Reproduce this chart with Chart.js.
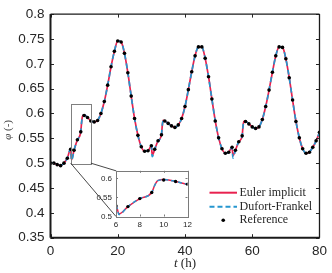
<!DOCTYPE html>
<html><head><meta charset="utf-8">
<script src="https://cdn.jsdelivr.net/npm/chart.js@4"></script>
<style>
html,body{margin:0;padding:0;background:#fff;}
#wrap{position:relative;width:332px;height:273px;overflow:hidden;}
#main{position:absolute;left:0;top:0;}
#inset{position:absolute;left:86px;top:162px;}
</style></head><body>
<div id="wrap">
<canvas id="main" width="332" height="273"></canvas>
<canvas id="inset" width="110" height="74"></canvas>
</div>
<script>
// ---- data ----
const refHours = [0,1,2,3,4,5,6,7,8,9,10,11,12,13,14,15,16,17,18,19,20,21,22,23,24,25,26,27,28,29,30,31,32,33,34,35,36,37,38,39,40,41,42,43,44,45,46,47,48,49,50,51,52,53,54,55,56,57,58,59,60,61,62,63,64,65,66,67,68,69,70,71,72,73,74,75,76,77,78,79,80];
const refValues = [0.500,0.500,0.497,0.495,0.500,0.510,0.528,0.526,0.547,0.563,0.596,0.592,0.585,0.583,0.586,0.600,0.624,0.657,0.694,0.725,0.746,0.744,0.721,0.682,0.635,0.590,0.556,0.533,0.524,0.525,0.535,0.528,0.545,0.557,0.585,0.580,0.575,0.572,0.577,0.590,0.614,0.648,0.684,0.716,0.734,0.734,0.711,0.674,0.629,0.585,0.551,0.529,0.520,0.522,0.532,0.526,0.543,0.555,0.584,0.579,0.573,0.570,0.573,0.588,0.614,0.647,0.683,0.716,0.734,0.733,0.710,0.672,0.627,0.584,0.551,0.529,0.520,0.522,0.532,0.545,0.562];
const lineHours = [0,1,2,3,4,5,6,6.25,7,8,9,9.25,9.5,10,11,12,13,14,15,16,17,18,19,20,21,22,23,24,25,26,27,28,29,30,30.25,31,32,33,33.25,33.5,34,35,36,37,38,39,40,41,42,43,44,45,46,47,48,49,50,51,52,53,54,54.25,55,56,57,57.25,57.5,58,59,60,61,62,63,64,65,66,67,68,69,70,71,72,73,74,75,76,77,78,79,80];
const eulerValues = [0.500,0.500,0.497,0.495,0.500,0.510,0.529,0.507,0.526,0.547,0.563,0.582,0.594,0.597,0.592,0.585,0.583,0.586,0.600,0.624,0.657,0.694,0.725,0.746,0.744,0.721,0.682,0.635,0.590,0.556,0.533,0.524,0.525,0.535,0.516,0.528,0.545,0.557,0.576,0.586,0.585,0.580,0.575,0.572,0.577,0.590,0.614,0.648,0.684,0.716,0.734,0.734,0.711,0.674,0.629,0.585,0.551,0.529,0.520,0.522,0.532,0.515,0.526,0.543,0.555,0.574,0.584,0.584,0.579,0.573,0.570,0.573,0.588,0.614,0.647,0.683,0.716,0.734,0.733,0.710,0.672,0.627,0.584,0.551,0.529,0.520,0.522,0.532,0.545,0.562];
const dufortValues = [0.500,0.500,0.497,0.495,0.500,0.510,0.529,0.505,0.526,0.547,0.563,0.582,0.594,0.597,0.592,0.585,0.583,0.586,0.600,0.624,0.657,0.694,0.725,0.746,0.744,0.721,0.682,0.635,0.590,0.556,0.533,0.524,0.525,0.535,0.513,0.528,0.545,0.557,0.576,0.586,0.585,0.580,0.575,0.572,0.577,0.590,0.614,0.648,0.684,0.716,0.734,0.734,0.711,0.674,0.629,0.585,0.551,0.529,0.520,0.522,0.532,0.510,0.526,0.543,0.555,0.574,0.584,0.584,0.579,0.573,0.570,0.573,0.588,0.614,0.647,0.683,0.716,0.734,0.733,0.710,0.672,0.627,0.584,0.551,0.529,0.520,0.522,0.532,0.545,0.562];
const seriesLabels = ['Euler implicit','Dufort-Frankel','Reference'];
const insetYTicks = [0.5, 0.55, 0.6];
const insetXTicks = [6, 8, 10, 12];
const xTitle = ['t',' (h)'];
const yTitle = ['φ',' (-)'];
const zoomBox = {x0:6, x1:12, y0:0.5, y1:0.62};

const RED = '#e8214f', BLUE = '#2596cf', INK = '#262626';
const pts = (xs, ys) => xs.map((x,i)=>({x, y: ys[i]}));

function makeDatasets(lw, dotR, dash){
  return [
    {label: seriesLabels[2], type:'scatter', data: pts(refHours, refValues), showLine:false,
     pointRadius: dotR, pointBackgroundColor:'#000', pointBorderWidth:0, order:0},
    {label: seriesLabels[1], type:'line', data: pts(lineHours, dufortValues), borderColor: BLUE,
     borderWidth: lw, borderDash: dash, pointRadius:0, cubicInterpolationMode:'monotone', fill:false, order:1},
    {label: seriesLabels[0], type:'line', data: pts(lineHours, eulerValues), borderColor: RED,
     borderWidth: lw, pointRadius:0, cubicInterpolationMode:'monotone', fill:false, order:2}
  ];
}

function seg(ctx,x1,y1,x2,y2){ctx.beginPath();ctx.moveTo(x1,y1);ctx.lineTo(x2,y2);ctx.stroke();}

// ---- inset chart ----
const insetFrame = {
  id:'insetFrame',
  beforeDatasetsDraw(chart){
    const {ctx, chartArea:a} = chart;
    ctx.save(); ctx.fillStyle='#fff'; ctx.fillRect(a.left,a.top,a.right-a.left,a.bottom-a.top); ctx.restore();
  },
  afterDraw(chart){
    const {ctx, chartArea:a, scales:{x,y}} = chart;
    ctx.save(); ctx.strokeStyle='#7a7a7a'; ctx.lineWidth=1;
    x.ticks.forEach(t=>{const p=Math.round(x.getPixelForValue(t.value))+0.5; seg(ctx,p,a.bottom,p,a.bottom-2); seg(ctx,p,a.top,p,a.top+2);});
    y.ticks.forEach(t=>{const p=Math.round(y.getPixelForValue(t.value))+0.5; seg(ctx,a.left,p,a.left+2,p); seg(ctx,a.right,p,a.right-2,p);});
    ctx.strokeRect(Math.round(a.left)+0.5, Math.round(a.top)+0.5, Math.round(a.right-a.left), Math.round(a.bottom-a.top));
    ctx.restore();
  }
};
const insetFont = {family:'Liberation Sans', size:8};
const insetChart = new Chart(document.getElementById('inset'), {
  data:{datasets: makeDatasets(1.5, 1.7, [4,3])},
  options:{
    responsive:false, animation:false, events:[],
    layout:{padding:{left:0,top:8,right:8.5,bottom:0}},
    plugins:{legend:{display:false}, tooltip:{enabled:false}},
    scales:{
      x:{type:'linear', min:zoomBox.x0, max:zoomBox.x1, grid:{display:false, drawTicks:false}, border:{display:false},
         ticks:{font:insetFont, color:INK, padding:3, maxRotation:0, autoSkip:false},
         afterBuildTicks(s){s.ticks = insetXTicks.map(v=>({value:v}));},
         afterFit(s){s.height=19.5;}},
      y:{type:'linear', min:zoomBox.y0, max:zoomBox.y1, grid:{display:false, drawTicks:false}, border:{display:false},
         ticks:{font:insetFont, color:INK, padding:4, autoSkip:false, callback:v=>String(parseFloat(v.toFixed(2)))},
         afterBuildTicks(s){s.ticks = insetYTicks.map(v=>({value:v}));},
         afterFit(s){s.width=30;}}
    }
  },
  plugins:[insetFrame]
});

// ---- main chart ----
const insetCanvas = document.getElementById('inset');
const mainFrame = {
  id:'mainFrame',
  afterDraw(chart){
    const {ctx, chartArea:a, scales:{x,y}} = chart;
    ctx.save();
    // inward ticks
    ctx.strokeStyle=INK; ctx.lineWidth=1;
    x.ticks.forEach(t=>{const p=Math.round(x.getPixelForValue(t.value))+0.5; seg(ctx,p,a.bottom,p,a.bottom-3.5); seg(ctx,p,a.top,p,a.top+3.5);});
    y.ticks.forEach(t=>{const p=Math.round(y.getPixelForValue(t.value))+0.5; seg(ctx,a.left,p,a.left+3.5,p); seg(ctx,a.right,p,a.right-3.5,p);});
    // box
    ctx.lineWidth=1.3; ctx.strokeStyle='#1a1a1a';
    seg(ctx,a.left,a.top,a.right,a.top); seg(ctx,a.right,a.top,a.right,a.bottom);
    ctx.lineWidth=2;
    seg(ctx,a.left,a.bottom,a.right,a.bottom); seg(ctx,a.left,a.top,a.left,a.bottom);
    // zoom rectangle
    const bx0=x.getPixelForValue(zoomBox.x0), bx1=x.getPixelForValue(zoomBox.x1);
    const by0=y.getPixelForValue(zoomBox.y0), by1=y.getPixelForValue(zoomBox.y1);
    ctx.strokeStyle='#808080'; ctx.lineWidth=1;
    ctx.strokeRect(Math.round(bx0)+0.5, Math.round(by1)+0.5, Math.round(bx1-bx0), Math.round(by0-by1));
    // connectors to inset
    const ia = insetChart.chartArea, ox = insetCanvas.offsetLeft, oy = insetCanvas.offsetTop;
    ctx.strokeStyle='#333'; ctx.lineWidth=0.9;
    seg(ctx,bx0,by0,ox+ia.left,oy+ia.bottom);
    seg(ctx,bx1,by0,ox+ia.left,oy+ia.top);
    // legend
    const lx0=a.right-110, lx1=a.right-82.5, tx=a.right-80;
    const ly=[a.bottom-45, a.bottom-31, a.bottom-17.5];
    ctx.setLineDash([]); ctx.lineWidth=2; ctx.strokeStyle=RED; seg(ctx,lx0,ly[0],lx1,ly[0]);
    ctx.setLineDash([5,3]); ctx.strokeStyle=BLUE; seg(ctx,lx0,ly[1],lx1,ly[1]); ctx.setLineDash([]);
    ctx.fillStyle='#000'; ctx.beginPath(); ctx.arc((lx0+lx1)/2, ly[2], 1.8, 0, Math.PI*2); ctx.fill();
    ctx.fillStyle=INK; ctx.font='12px "Liberation Serif"'; ctx.textBaseline='middle'; ctx.textAlign='left';
    ctx.fillText(seriesLabels[0], tx, ly[0]); ctx.fillText(seriesLabels[1], tx, ly[1]); ctx.fillText(seriesLabels[2], tx, ly[2]);
    // x title
    ctx.font='italic 13px "Liberation Serif"'; const w1=ctx.measureText(xTitle[0]).width;
    ctx.font='13px "Liberation Serif"'; const w2=ctx.measureText(xTitle[1]).width;
    let cx=(a.left+a.right)/2 - (w1+w2)/2, cy=264;
    ctx.font='italic 13px "Liberation Serif"'; ctx.fillText(xTitle[0], cx, cy);
    ctx.font='13px "Liberation Serif"'; ctx.fillText(xTitle[1], cx+w1, cy);
    // y title
    ctx.save(); ctx.translate(8, (a.top+a.bottom)/2 + 4); ctx.rotate(-Math.PI/2);
    ctx.font='italic 11px "Liberation Serif"'; const v1=ctx.measureText(yTitle[0]).width;
    ctx.font='11px "Liberation Serif"'; const v2=ctx.measureText(yTitle[1]).width;
    ctx.fillStyle='#444';
    ctx.font='italic 11px "Liberation Serif"'; ctx.fillText(yTitle[0], -(v1+v2)/2, 0);
    ctx.font='11px "Liberation Serif"'; ctx.fillText(yTitle[1], -(v1+v2)/2+v1, 0);
    ctx.restore();
    ctx.restore();
  }
};
const mainFont = {family:'Liberation Sans', size:13.5};
new Chart(document.getElementById('main'), {
  data:{datasets: makeDatasets(1.7, 1.8, [5,4])},
  options:{
    responsive:false, animation:false, events:[],
    layout:{padding:{left:0,top:6,right:9.5,bottom:0}},
    plugins:{legend:{display:false}, tooltip:{enabled:false}},
    scales:{
      x:{type:'linear', min:0, max:80, grid:{display:false, drawTicks:false}, border:{display:false},
         ticks:{stepSize:20, font:mainFont, color:INK, padding:5, maxRotation:0, autoSkip:false},
         afterFit(s){s.height=35.3;}},
      y:{type:'linear', min:0.35, max:0.8, grid:{display:false, drawTicks:false}, border:{display:false},
         ticks:{stepSize:0.05, font:mainFont, color:INK, padding:6, autoSkip:false, callback:v=>String(parseFloat(v.toFixed(2)))},
         afterFit(s){s.width=50.5;}}
    }
  },
  plugins:[mainFrame]
});
</script>
</body></html>
